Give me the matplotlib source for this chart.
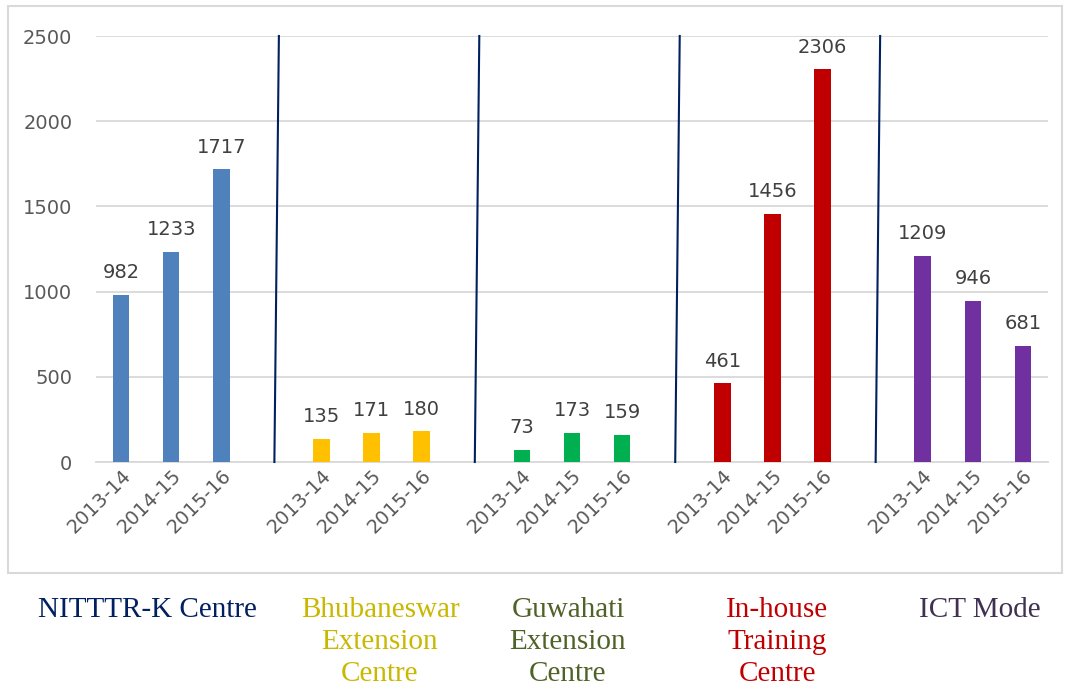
import matplotlib
matplotlib.use('Agg')
import matplotlib.pyplot as plt
from matplotlib.patches import Rectangle

# data
years = ['2013-14', '2014-15', '2015-16']
centres = ['NITTTR-K Centre', 'Bhubaneswar\nExtension\nCentre', 'Guwahati\nExtension\nCentre',
           'In-house\nTraining\nCentre', 'ICT Mode']
nitttr = [982, 1233, 1717]
bhubaneswar = [135, 171, 180]
guwahati = [73, 173, 159]
inhouse = [461, 1456, 2306]
ict = [1209, 946, 681]

bar_colors = ['#4F81BD', '#FFC000', '#00B050', '#C00000', '#7030A0']
label_colors = ['#002060', '#C9B800', '#4F6228', '#C00000', '#403152']

fig = plt.figure(figsize=(10.67, 6.86), dpi=100)
ax = fig.add_axes([96 / 1067, 1 - 462 / 686, (1048 - 96) / 1067, (462 - 36) / 686])

# outer frame
fig.patches.append(Rectangle((8 / 1067, 1 - 573 / 686), 1054 / 1067, 567 / 686,
                             transform=fig.transFigure, fill=False,
                             edgecolor='#D9D9D9', linewidth=1.5))

groups = [nitttr, bhubaneswar, guwahati, inhouse, ict]
xticks = []
xlabels = []
for g, vals in enumerate(groups):
    xs = [g * 4 + i for i in range(3)]
    ax.bar(xs, vals, width=0.33, color=bar_colors[g], zorder=3)
    for x, v in zip(xs, vals):
        ax.annotate(str(v), (x, v), xytext=(0, 9), textcoords='offset points',
                    ha='center', va='bottom', fontsize=14, color='#404040')
    xticks += xs
    xlabels += years

# separator lines between groups (slightly slanted)
for g in range(4):
    s = g * 4 + 3
    ax.plot([s + 0.06, s + 0.15], [0, 2500], color='#002060', linewidth=1.5,
            zorder=4, clip_on=False)

ax.set_xlim(-0.5, 18.5)
ax.set_ylim(0, 2500)
ax.set_yticks([0, 500, 1000, 1500, 2000, 2500])
ax.set_xticks(xticks)
ax.set_xticklabels(xlabels, rotation=45, ha='right', rotation_mode='anchor')
ax.tick_params(axis='both', length=0, labelsize=14, labelcolor='#595959')
ax.tick_params(axis='y', pad=17)
ax.tick_params(axis='x', pad=3)
ax.yaxis.grid(True, color='#D9D9D9', linewidth=1.3, zorder=0)
ax.set_axisbelow(True)
for sp in ['top', 'right', 'left']:
    ax.spines[sp].set_visible(False)
ax.spines['bottom'].set_color('#D9D9D9')
ax.spines['bottom'].set_linewidth(1.3)

# centre names below the chart
name_x = [147, 380, 568, 777, 980]
for name, x, c in zip(centres, name_x, label_colors):
    fig.text(x / 1067, 1 - 597 / 686, name, ha='center', va='top', fontsize=21,
             color=c, family='Liberation Serif', linespacing=1.3)

fig.savefig('out.png', dpi=100)
